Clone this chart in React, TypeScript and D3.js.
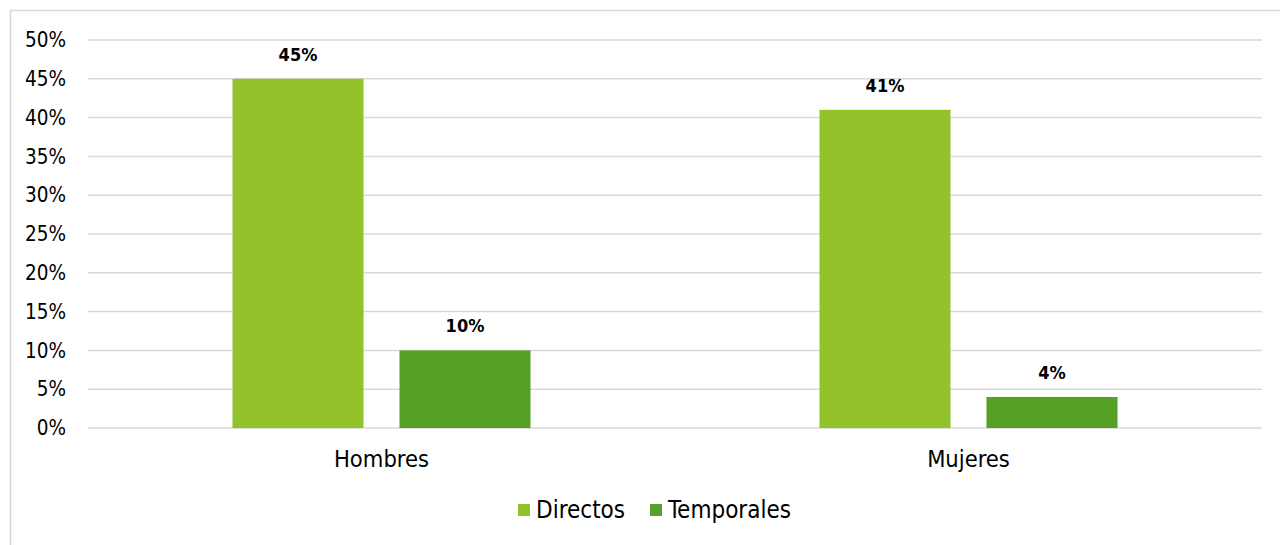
import React from "react";
import * as d3 from "d3";

const categories = ["Hombres", "Mujeres"];
const seriesNames = ["Directos", "Temporales"];
const directos = [45, 41];
const temporales = [10, 4];
const yTicks = [0, 5, 10, 15, 20, 25, 30, 35, 40, 45, 50];
const colors = ["#92C12A", "#56A125"];

const W = 1280;
const H = 545;
const margin = { left: 88, right: 18, top: 40, bottom: 117 };
const FONT = "'DejaVu Sans Condensed', 'DejaVu Sans', sans-serif";

export default function App() {
  const x0 = d3
    .scaleBand<string>()
    .domain(categories)
    .range([margin.left, W - margin.right])
    .paddingInner(0)
    .paddingOuter(0);
  const y = d3.scaleLinear().domain([0, 50]).range([H - margin.bottom, margin.top]);
  const barW = 131;
  const gap = 36;
  const values = [directos, temporales];

  return (
    <svg
      width={W}
      height={H}
      style={{ position: "absolute", left: 0, top: 0, background: "#fff" }}
      fontFamily={FONT}
    >
      <rect x={10.5} y={10.5} width={1290} height={560} fill="none" stroke="#d9d9d9" strokeWidth={1.5} />
      {yTicks.map((t) => (
        <g key={t}>
          <line
            x1={margin.left}
            x2={W - margin.right}
            y1={y(t)}
            y2={y(t)}
            stroke="#d9d9d9"
            strokeWidth={1.5}
          />
          <text x={66} y={y(t)} dy="0.35em" textAnchor="end" fontSize={20.5} fill="#000">
            {t}%
          </text>
        </g>
      ))}
      {categories.map((c, ci) => {
        const cx = x0(c)! + x0.bandwidth() / 2;
        const groupW = barW * 2 + gap;
        return (
          <g key={c}>
            {values.map((vals, si) => {
              const bx = cx - groupW / 2 + si * (barW + gap);
              const v = vals[ci];
              return (
                <g key={si}>
                  <rect x={bx} y={y(v)} width={barW} height={y(0) - y(v)} fill={colors[si]} />
                  <text
                    x={bx + barW / 2}
                    y={y(v) - 18}
                    textAnchor="middle"
                    fontSize={18}
                    fontWeight="bold"
                    fill="#000"
                  >
                    {v}%
                  </text>
                </g>
              );
            })}
            <text x={cx} y={y(0) + 31} dy="0.35em" textAnchor="middle" fontSize={23.5} fill="#000">
              {c}
            </text>
          </g>
        );
      })}
      {seriesNames.map((s, i) => {
        const lx = [518, 650][i];
        return (
          <g key={s}>
            <rect x={lx} y={504} width={12} height={12} fill={colors[i]} />
            <text x={lx + 18} y={510} dy="0.35em" fontSize={24} fill="#000">
              {s}
            </text>
          </g>
        );
      })}
    </svg>
  );
}
